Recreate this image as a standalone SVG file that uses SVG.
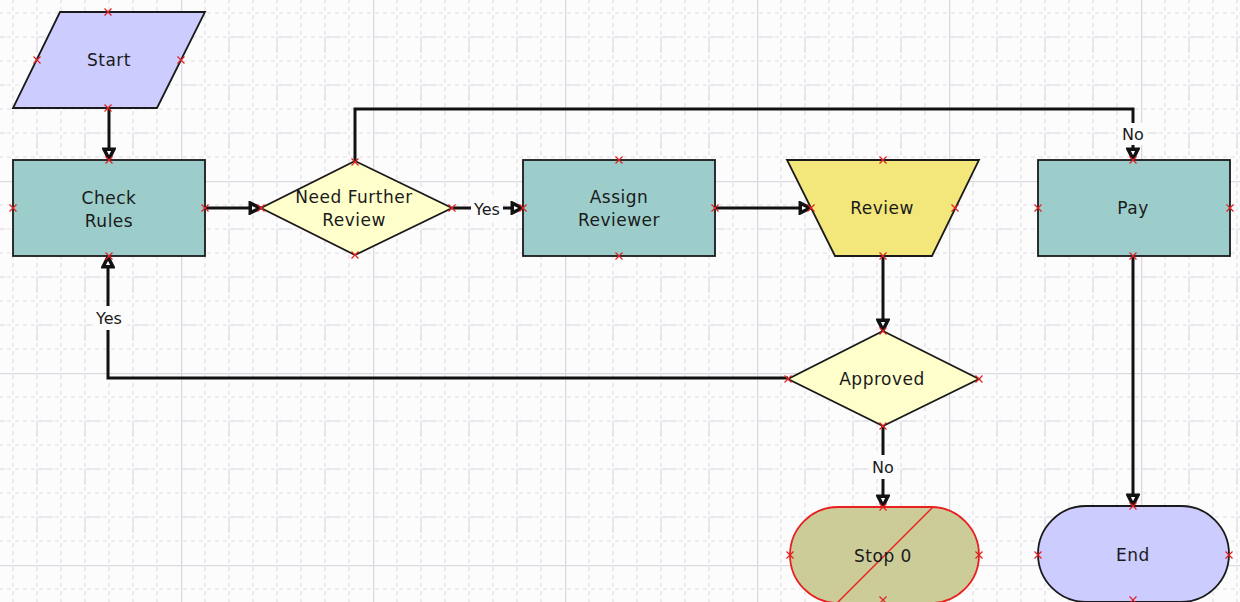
<svg xmlns="http://www.w3.org/2000/svg" width="1240" height="602" viewBox="0 0 1240 602">
<defs>
<pattern id="grid" patternUnits="userSpaceOnUse" x="-11" y="-11" width="192" height="192">
<rect width="192" height="192" fill="#fcfcfc"/>
<g stroke="#e2dee6" stroke-width="1.2" fill="none" stroke-dasharray="4 4" stroke-dashoffset="-2">
<path d="M24,0V192M48,0V192M72,0V192M96,0V192M120,0V192M144,0V192M168,0V192"/>
<path d="M0,24H192M0,48H192M0,72H192M0,96H192M0,120H192M0,144H192M0,168H192"/>
</g>
<g stroke="#e2dee6" stroke-width="1.2" fill="none" stroke-dasharray="16 32">
<path d="M48,48V192M96,48V192M144,48V192M0,48H192M0,96H192M0,144H192" />
</g>
<path d="M0.6,0V192M0,0.6H192" stroke="#dcd8e0" stroke-width="1.4"/>
</pattern>
<marker id="arr" viewBox="0 0 12 12" refX="11" refY="6" markerWidth="14" markerHeight="14" markerUnits="userSpaceOnUse" orient="auto">
<path d="M1.8,1.8 L10.2,6 L1.8,10.2 Z" fill="#ffffff" stroke="#111" stroke-width="3" stroke-linejoin="miter"/>
</marker>
<path id="x" d="M-3.5,-3.5L3.5,3.5M3.5,-3.5L-3.5,3.5"/>
</defs>
<style>
.shape{stroke:#1a1a1a;stroke-width:1.8}
.proc{fill:#9ccdcb}
.dec{fill:#ffffcc}
.term{fill:#ccccff}
.lbl{font-family:"DejaVu Sans",Verdana,sans-serif;font-size:17px;letter-spacing:0.5px;fill:#1a1a1a;text-anchor:middle;dominant-baseline:central}
.cl{font-family:"DejaVu Sans",Verdana,sans-serif;font-size:16px;fill:#1a1a1a;text-anchor:middle;dominant-baseline:central}
.pt use{stroke:#e02020;stroke-width:1.2;fill:none}
.conn path{fill:none;stroke:#111;stroke-width:3;marker-end:url(#arr)}
.lb{fill:#fcfcfc}
</style>
<rect width="1240" height="602" fill="url(#grid)"/>

<g id="connectors" class="conn">
<path d="M109,108V160"/>
<path d="M205,208H261"/>
<path d="M452,208H523"/>
<path d="M715,208H811"/>
<path d="M355,161V109H1133V160"/>
<path d="M883,256V331"/>
<path d="M788,378H108V256"/>
<path d="M883,426V507"/>
<path d="M1133,256V506"/>
</g>
<g id="connector-labels">
<rect class="lb" x="471" y="199" width="32" height="20"/>
<text class="cl" x="487" y="209">Yes</text>
<rect class="lb" x="1119" y="123" width="28" height="22"/>
<text class="cl" x="1133" y="134">No</text>
<rect class="lb" x="93" y="306" width="31" height="24"/>
<text class="cl" x="109" y="318">Yes</text>
<rect class="lb" x="869" y="455" width="28" height="24"/>
<text class="cl" x="883" y="467">No</text>
</g>

<g id="start">
<polygon class="shape term" points="60,12 205,12 157,108 13,108"/>
<text class="lbl" x="109" y="60">Start</text>
<g class="pt"><use href="#x" x="108" y="12"/><use href="#x" x="37" y="60"/><use href="#x" x="181" y="60"/><use href="#x" x="108" y="108"/></g>
</g>

<g id="check-rules">
<rect class="shape proc" x="13" y="160" width="192" height="96"/>
<text class="lbl" x="109" y="198">Check</text>
<text class="lbl" x="109" y="221">Rules</text>
<g class="pt"><use href="#x" x="109" y="160"/><use href="#x" x="13" y="208"/><use href="#x" x="205" y="208"/><use href="#x" x="109" y="256"/></g>
</g>

<g id="need-further-review">
<polygon class="shape dec" points="355,161 452,208 355,255 261,208"/>
<text class="lbl" x="354" y="197">Need Further</text>
<text class="lbl" x="354" y="220">Review</text>
<g class="pt"><use href="#x" x="355" y="162"/><use href="#x" x="261" y="208"/><use href="#x" x="452" y="208"/><use href="#x" x="355" y="255"/></g>
</g>

<g id="assign-reviewer">
<rect class="shape proc" x="523" y="160" width="192" height="96"/>
<text class="lbl" x="619" y="197">Assign</text>
<text class="lbl" x="619" y="220">Reviewer</text>
<g class="pt"><use href="#x" x="619" y="160"/><use href="#x" x="523" y="208"/><use href="#x" x="715" y="208"/><use href="#x" x="619" y="256"/></g>
</g>

<g id="review">
<polygon class="shape" fill="#f3e67b" points="787,160 979,160 932,256 835,256"/>
<text class="lbl" x="882" y="208">Review</text>
<g class="pt"><use href="#x" x="883" y="160"/><use href="#x" x="811" y="208"/><use href="#x" x="955" y="208"/><use href="#x" x="883" y="256"/></g>
</g>

<g id="pay">
<rect class="shape proc" x="1038" y="160" width="192" height="96"/>
<text class="lbl" x="1133" y="208">Pay</text>
<g class="pt"><use href="#x" x="1133" y="160"/><use href="#x" x="1038" y="208"/><use href="#x" x="1230" y="208"/><use href="#x" x="1133" y="256"/></g>
</g>

<g id="approved">
<polygon class="shape dec" points="883,331 979,379 883,426 788,379"/>
<text class="lbl" x="882" y="379">Approved</text>
<g class="pt"><use href="#x" x="883" y="331"/><use href="#x" x="788" y="379"/><use href="#x" x="979" y="379"/><use href="#x" x="883" y="426"/></g>
</g>

<g id="stop-0">
<rect x="790" y="507" width="189" height="96" rx="48" ry="48" fill="#cccc99" stroke="#e82020" stroke-width="1.8"/>
<path d="M933,507L837,603" stroke="#e82020" stroke-width="1.4"/>
<text class="lbl" x="883" y="556">Stop 0</text>
<g class="pt"><use href="#x" x="883" y="507"/><use href="#x" x="790" y="555"/><use href="#x" x="979" y="555"/><use href="#x" x="883" y="600"/></g>
</g>

<g id="end">
<rect class="shape term" x="1038" y="506" width="191" height="96" rx="48" ry="48"/>
<text class="lbl" x="1133" y="555">End</text>
<g class="pt"><use href="#x" x="1133" y="506"/><use href="#x" x="1038" y="555"/><use href="#x" x="1229" y="555"/><use href="#x" x="1133" y="600"/></g>
</g>
</svg>
